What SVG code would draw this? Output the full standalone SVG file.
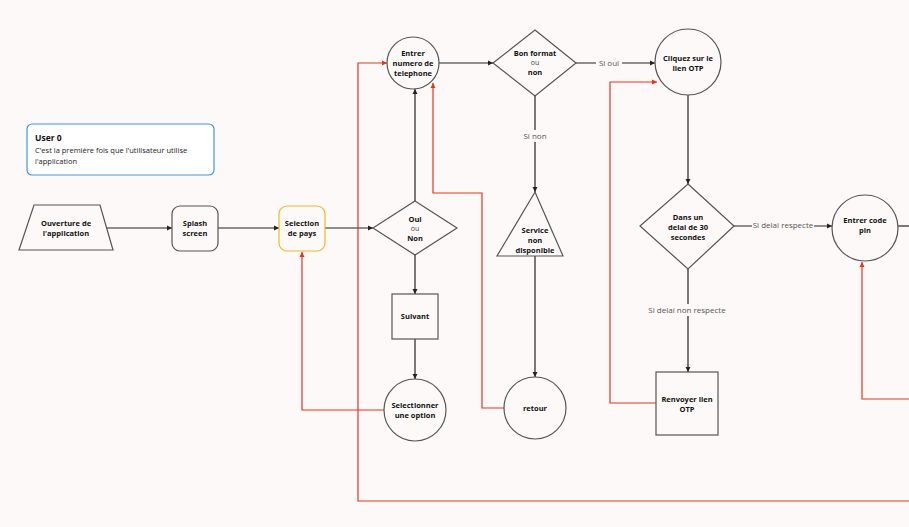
<svg xmlns="http://www.w3.org/2000/svg" width="909" height="527" viewBox="0 0 909 527">
<defs>
<marker id="ab" markerWidth="6" markerHeight="6" refX="5" refY="3" orient="auto" markerUnits="userSpaceOnUse"><path d="M0,0.5 L5,3 L0,5.5 Z" fill="#222"/></marker>
<marker id="ar" markerWidth="6" markerHeight="6" refX="5" refY="3" orient="auto" markerUnits="userSpaceOnUse"><path d="M0,0.5 L5,3 L0,5.5 Z" fill="#e8321e"/></marker>
<style>
.s{fill:#fdf9f8;stroke:#555;stroke-width:1.2}
.t{font-family:"Open Sans","Noto Sans",sans-serif;font-size:7.5px;font-weight:bold;fill:#111;text-anchor:middle}
.o{font-family:"Open Sans","Noto Sans",sans-serif;font-size:7px;fill:#444;text-anchor:middle}
.l{font-family:"Open Sans","Noto Sans",sans-serif;font-size:8px;fill:#555;text-anchor:middle}
.b{fill:none;stroke:#222;stroke-width:1.2;marker-end:url(#ab)}
.r{fill:none;stroke:#e8321e;stroke-width:1.2;marker-end:url(#ar)}
.lb{fill:#fdf9f8}
</style>
</defs>
<rect width="909" height="527" fill="#fdf9f8"/>
<g id="connectors">
<path class="b" d="M107,228 H172"/>
<path class="b" d="M218,228 H279"/>
<path class="b" d="M325,228 H373"/>
<path class="b" d="M415,201 V89"/>
<path class="b" d="M415,255 V294"/>
<path class="b" d="M415,339 V379"/>
<path class="b" d="M439,63 H493"/>
<path class="b" d="M576,63 H655"/>
<rect class="lb" x="596" y="57" width="26" height="12"/>
<text class="l" x="609" y="66">Si oui</text>
<path class="b" d="M535,96 V192"/>
<rect class="lb" x="522" y="130" width="26" height="12"/>
<text class="l" x="535" y="139">Si non</text>
<path class="b" d="M688,95 V184"/>
<path class="b" d="M734,226 H832"/>
<rect class="lb" x="752" y="219" width="62" height="12"/>
<text class="l" x="783" y="228">Si delai respecte</text>
<path class="b" d="M688,269 V372"/>
<rect class="lb" x="650" y="304" width="74" height="12"/>
<text class="l" x="687" y="313">Si delai non respecte</text>
<path class="b" d="M535,256 V377"/>
<path d="M898,226 H909" stroke="#222" stroke-width="1.2"/>
<path class="r" d="M384,410 H302 V252"/>
<path class="r" d="M504,408 H482 V193 H433 V83"/>
<path class="r" d="M656,403 H610 V82 H657"/>
<path class="r" d="M909,501 H358 V63 H387"/>
<path class="r" d="M909,399 H862 V262"/>
</g>
<g id="note">
<rect x="27" y="124" width="187" height="51" rx="5" fill="#fff" stroke="#3a9ae8" stroke-width="1.2"/>
<text x="35" y="141" font-family="Open Sans,Noto Sans,sans-serif" font-size="8.5" font-weight="bold" fill="#111">User 0</text>
<text x="35" y="153" font-family="Open Sans,Noto Sans,sans-serif" font-size="7.5" fill="#222">C'est la première fois que l'utilisateur utilise</text>
<text x="35" y="164" font-family="Open Sans,Noto Sans,sans-serif" font-size="7.5" fill="#222">l'application</text>
</g>
<g id="ouverture"><path class="s" d="M34,205 H100 L113,250 H19 Z"/><text class="t" x="66" y="226">Ouverture de</text><text class="t" x="66" y="236">l'application</text></g>
<g id="splash"><rect class="s" x="172" y="206" width="46" height="45" rx="8"/><text class="t" x="195" y="226">Splash</text><text class="t" x="195" y="236">screen</text></g>
<g id="pays"><rect class="s" x="279" y="206" width="46" height="45" rx="8" style="stroke:#f2b824"/><text class="t" x="302" y="226">Selection</text><text class="t" x="302" y="236">de pays</text></g>
<g id="ouinon"><path class="s" d="M415,201 L457,228 L415,255 L373,228 Z"/><text class="t" x="415" y="222">Oui</text><text class="o" x="415" y="231">ou</text><text class="t" x="415" y="241">Non</text></g>
<g id="entrer"><circle class="s" cx="413" cy="63" r="26"/><text class="t" x="413" y="56">Entrer</text><text class="t" x="413" y="66">numero de</text><text class="t" x="413" y="76">telephone</text></g>
<g id="format"><path class="s" d="M535,30 L576,63 L535,96 L493,63 Z"/><text class="t" x="535" y="56">Bon format</text><text class="o" x="535" y="65">ou</text><text class="t" x="535" y="75">non</text></g>
<g id="cliquez"><circle class="s" cx="688" cy="62" r="33"/><text class="t" x="688" y="61">Cliquez sur le</text><text class="t" x="688" y="71">lien OTP</text></g>
<g id="delai"><path class="s" d="M688,184 L734,226 L688,269 L640,226 Z"/><text class="t" x="688" y="220">Dans un</text><text class="t" x="688" y="230">delai de 30</text><text class="t" x="688" y="240">secondes</text></g>
<g id="pin"><circle class="s" cx="865" cy="228" r="33"/><text class="t" x="865" y="223">Entrer code</text><text class="t" x="865" y="233">pin</text></g>
<g id="service"><path class="s" d="M535,192 L563,256 H497 Z"/><text class="t" x="535" y="233">Service</text><text class="t" x="535" y="243">non</text><text class="t" x="535" y="253">disponible</text></g>
<g id="suivant"><rect class="s" x="392" y="294" width="46" height="45"/><text class="t" x="415" y="319">Suivant</text></g>
<g id="selectionner"><ellipse class="s" cx="415" cy="410" rx="31" ry="31"/><text class="t" x="415" y="408">Selectionner</text><text class="t" x="415" y="418">une option</text></g>
<g id="retour"><circle class="s" cx="535" cy="408" r="31"/><text class="t" x="535" y="411">retour</text></g>
<g id="renvoyer"><rect class="s" x="656" y="372" width="62" height="63"/><text class="t" x="687" y="402">Renvoyer  lien</text><text class="t" x="687" y="412">OTP</text></g>
</svg>
